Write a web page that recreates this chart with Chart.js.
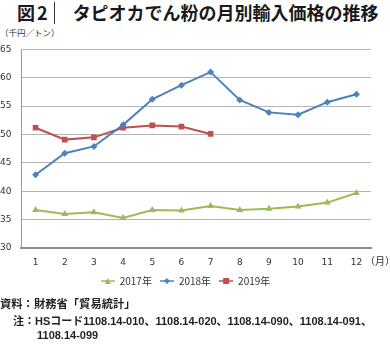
<!DOCTYPE html>
<html lang="ja">
<head>
<meta charset="UTF-8">
<title>タピオカでん粉の月別輸入価格の推移</title>
<script src="https://cdn.jsdelivr.net/npm/chart.js"></script>
<style>
  body { margin: 0; background: #fff; font-family: "Noto Sans CJK JP", sans-serif; color: #231f20; }
  .page { position: relative; width: 390px; height: 346px; overflow: hidden; }
  .title { position: absolute; left: 17px; top: -1px; font-size: 18px; font-weight: bold; white-space: nowrap; color: #1a1a1a; }
  .title .fig { letter-spacing: 2px; }
  .title .bar { display: inline-block; width: 1px; height: 22px; background: #333; vertical-align: -4px; margin: 0 18px 0 4px; }
  .unit { position: absolute; left: 0; top: 26px; font-size: 8.5px; color: #333; }
  .month { position: absolute; left: 365px; top: 253px; font-size: 10px; color: #333; }
  .chart-box { position: absolute; left: 0; top: 40px; width: 390px; height: 256px; }
  .note { position: absolute; white-space: nowrap; }
  .src { left: 0; top: 295px; font-size: 11.3px; font-weight: bold; }
  .code { font-family: "Liberation Sans", "Noto Sans CJK JP", sans-serif; font-size: 11px; font-weight: 600; }
</style>
</head>
<body>
<div class="page">
  <div class="title"><span class="fig">図2</span><span class="bar"></span>タピオカでん粉の月別輸入価格の推移</div>
  <div class="unit">（千円／トン）</div>
  <div class="chart-box"><canvas id="priceChart" width="390" height="256"></canvas></div>
  <div class="month">（月）</div>
  <div class="note src">資料：財務省「貿易統計」</div>
  <div class="note code" style="left:13px; top:312px;">注：HSコード1108.14-010、1108.14-020、1108.14-090、1108.14-091、</div>
  <div class="note code" style="left:37px; top:329px;">1108.14-099</div>
</div>
<script>
  const months = ['1', '2', '3', '4', '5', '6', '7', '8', '9', '10', '11', '12'];
  const yearLabels = ['2017年', '2018年', '2019年'];
  const price2017 = [36.7, 36.0, 36.3, 35.3, 36.7, 36.6, 37.4, 36.7, 36.9, 37.3, 38.0, 39.7];
  const price2018 = [42.9, 46.7, 47.9, 51.7, 56.2, 58.7, 61.0, 56.1, 53.9, 53.5, 55.7, 57.1];
  const price2019 = [51.2, 49.1, 49.5, 51.2, 51.6, 51.4, 50.1];

  const colors = ['#9bbb59', '#4f81bd', '#c0504d'];
  const markers = ['triangle', 'rectRot', 'rect'];
  const markerSize = [4, 3.5, 4];

  // little line + marker picture used as the legend symbol
  function swatch(color, style) {
    const c = document.createElement('canvas');
    c.width = 14; c.height = 8;
    const ctx = c.getContext('2d');
    ctx.strokeStyle = color; ctx.lineWidth = 1.5;
    ctx.beginPath(); ctx.moveTo(0, 4); ctx.lineTo(14, 4); ctx.stroke();
    ctx.fillStyle = color;
    ctx.beginPath();
    if (style === 'rect') ctx.fillRect(4, 1, 6, 6);
    else if (style === 'rectRot') { ctx.moveTo(7, 1); ctx.lineTo(10, 4); ctx.lineTo(7, 7); ctx.lineTo(4, 4); ctx.closePath(); ctx.fill(); }
    else { ctx.moveTo(7, 1); ctx.lineTo(10, 7); ctx.lineTo(4, 7); ctx.closePath(); ctx.fill(); }
    return c;
  }

  const series = [price2017, price2018, price2019];
  const datasets = series.map((vals, i) => ({
    label: yearLabels[i],
    data: vals,
    borderColor: colors[i],
    backgroundColor: colors[i],
    borderWidth: 2,
    pointStyle: markers[i],
    pointRadius: markerSize[i],
    pointBorderWidth: 0,
    tension: 0
  }));

  const tickFont = { family: 'DejaVu Sans', size: 9 };

  new Chart(document.getElementById('priceChart'), {
    type: 'line',
    data: { labels: months, datasets: datasets },
    options: {
      responsive: false,
      animation: false,
      layout: { padding: { top: 9, right: 19, left: 0, bottom: 0 } },
      plugins: {
        tooltip: { enabled: false },
        legend: {
          position: 'bottom',
          labels: {
            usePointStyle: true,
            pointStyleWidth: 14,
            padding: 8,
            color: '#333',
            font: { family: 'Noto Sans CJK JP', size: 10 },
            generateLabels: chart => chart.data.datasets.map((ds, i) => ({
              text: ds.label,
              pointStyle: swatch(colors[i], markers[i]),
              fontColor: '#333',
              datasetIndex: i,
              hidden: false,
              lineWidth: 0
            }))
          }
        }
      },
      scales: {
        x: {
          offset: true,
          grid: { display: false, drawTicks: false },
          border: { color: '#8c8c8c', width: 2 },
          ticks: { font: tickFont, color: '#333', padding: 9 },
          afterFit: s => { s.height = 20; }
        },
        y: {
          min: 30,
          max: 65,
          ticks: { stepSize: 5, font: tickFont, color: '#333', crossAlign: 'far', padding: 4 },
          grid: { color: '#b4b4b4', drawTicks: false },
          border: { color: '#9a9a9a', width: 1 },
          afterFit: s => { s.width = 21; }
        }
      }
    }
  });
</script>
</body>
</html>
